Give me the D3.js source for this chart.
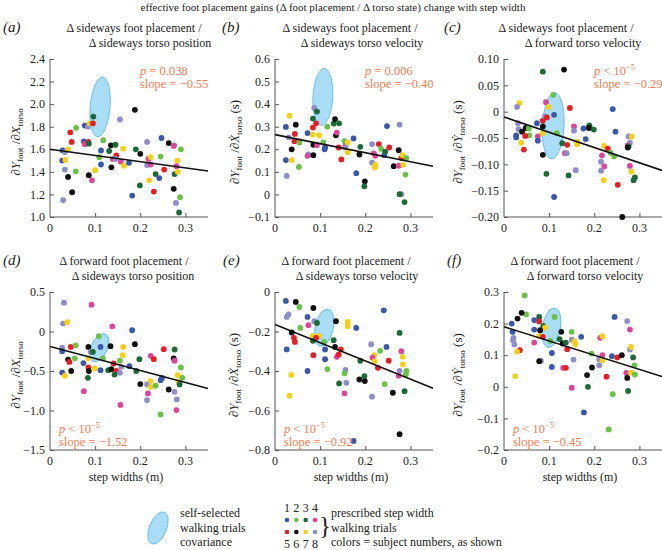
<!DOCTYPE html>
<html><head><meta charset="utf-8">
<script src="https://cdn.jsdelivr.net/npm/d3@7"></script>
<style>body{margin:0;background:#fff}svg{display:block;font-family:'Liberation Serif','Times New Roman',Times,serif}</style>
</head><body><svg id="chart" width="662" height="550"></svg>
<script>
// ---------- DATA ----------
const subjectColors = ["#3b57a7","#6cbf4a","#1e6a36","#d9479b","#e31f26","#111111","#f4cf1c","#8f8dc7"];
const subjects = [1,2,3,4,5,6,7,8];
const xTicks = [0, 0.1, 0.2, 0.3];
const xTickLabels = ["0", "0.1", "0.2", "0.3"];
const xDomain = [0, 0.35];

const panelIds = ["a","b","c","d","e","f"];
const titlesLine1 = ["Δ sideways foot placement /","Δ sideways foot placement /","Δ sideways foot placement /",
                     "Δ forward foot placement /","Δ forward foot placement /","Δ forward foot placement /"];
const titlesLine2 = ["Δ sideways torso position","Δ sideways torso velocity","Δ forward torso velocity",
                     "Δ sideways torso position","Δ sideways torso velocity","Δ forward torso velocity"];
const yLabelVars = ["X","Ẋ","Ẏ","X","Ẋ","Ẏ"];
const yLabelUnits = ["","(s)","(s)","","(s)","(s)"];

const yDomains = [[1.0,2.4],[-0.1,0.6],[-0.2,0.1],[-1.5,0.5],[-0.8,0],[-0.2,0.3]];
const yTicksA = [1.0,1.2,1.4,1.6,1.8,2.0,2.2,2.4];
const yTickLabelsA = ["1.0","1.2","1.4","1.6","1.8","2.0","2.2","2.4"];
const yTicksB = [-0.1,0,0.1,0.2,0.3,0.4,0.5,0.6];
const yTickLabelsB = ["−0.1","0","0.1","0.2","0.3","0.4","0.5","0.6"];
const yTicksC = [-0.20,-0.15,-0.10,-0.05,0,0.05,0.10];
const yTickLabelsC = ["−0.20","−0.15","−0.10","−0.05","0","0.05","0.10"];
const yTicksD = [-1.5,-1.0,-0.5,0,0.5];
const yTickLabelsD = ["−1.5","−1.0","−0.5","0","0.5"];
const yTicksE = [-0.8,-0.6,-0.4,-0.2,0];
const yTickLabelsE = ["−0.8","−0.6","−0.4","−0.2","0"];
const yTicksF = [-0.2,-0.1,0,0.1,0.2,0.3];
const yTickLabelsF = ["−0.2","−0.1","0","0.1","0.2","0.3"];

const slopes = [-0.55,-0.40,-0.29,-1.52,-0.92,-0.45];
const intercepts = [1.60,0.265,-0.01,-0.19,-0.165,0.19];
const pValueLabels = ["= 0.038","= 0.006","< 10","< 10","< 10","< 10"];
const pExponents = ["","","−5","−5","−5","−5"];
const slopeLabels = ["slope = −0.55","slope = −0.40","slope = −0.29","slope = −1.52","slope = −0.92","slope = −0.45"];

// self-selected covariance ellipses: [cx, cy, half-width (x units), half-height (y units), tilt deg]
const ellipseA = [0.111, 1.975, 0.022, 0.266, 5];
const ellipseB = [0.106, 0.432, 0.022, 0.126, 3];
const ellipseC = [0.109, -0.027, 0.024, 0.063, 3];
const ellipseD = [0.109, -0.205, 0.018, 0.19, 25];
const ellipseE = [0.109, -0.181, 0.020, 0.096, 12];
const ellipseF = [0.105, 0.187, 0.020, 0.063, 10];

// points: [step width, gain, subject]
const pointsA = [[0.028,1.59,1],[0.033,1.575,8],[0.027,1.50,1],[0.034,1.505,7],[0.033,1.42,8],[0.029,1.15,8],[0.040,1.60,7],[0.040,1.355,6],[0.045,1.75,5],[0.048,1.665,5],[0.049,1.22,6],[0.058,1.79,2],[0.057,1.405,2],[0.077,1.81,1],[0.075,1.67,1],[0.077,1.645,4],[0.084,1.80,8],[0.088,1.83,7],[0.095,1.83,5],[0.096,1.89,3],[0.085,1.665,5],[0.086,1.65,3],[0.086,1.37,6],[0.100,1.415,7],[0.093,1.325,4],[0.118,1.68,2],[0.113,1.59,1],[0.109,1.53,2],[0.113,1.465,1],[0.131,1.585,3],[0.135,1.635,6],[0.145,1.64,3],[0.147,1.545,5],[0.139,1.515,4],[0.145,1.515,8],[0.136,1.44,6],[0.155,1.865,8],[0.157,1.49,4],[0.162,1.605,7],[0.164,1.455,7],[0.175,1.48,1],[0.188,1.95,6],[0.190,1.60,3],[0.200,1.56,6],[0.182,1.19,1],[0.199,1.28,3],[0.215,1.665,8],[0.218,1.515,4],[0.215,1.46,8],[0.223,1.53,7],[0.223,1.465,4],[0.220,1.325,7],[0.230,1.225,5],[0.234,1.38,3],[0.245,1.535,2],[0.247,1.70,1],[0.242,1.345,1],[0.253,1.42,5],[0.263,1.655,6],[0.275,1.635,8],[0.274,1.63,4],[0.276,1.38,3],[0.274,1.25,6],[0.282,1.50,7],[0.280,1.45,4],[0.283,1.40,7],[0.279,1.125,8],[0.290,1.60,2],[0.288,1.175,2],[0.286,1.04,3]];
const pointsB = [[0.032,0.349,7],[0.024,0.299,1],[0.030,0.253,8],[0.024,0.152,1],[0.026,0.082,8],[0.037,0.200,6],[0.037,0.152,7],[0.046,0.309,6],[0.044,0.268,5],[0.043,0.236,5],[0.054,0.230,2],[0.053,0.122,2],[0.072,0.272,1],[0.074,0.177,8],[0.072,0.171,4],[0.084,0.336,3],[0.087,0.383,8],[0.093,0.367,3],[0.084,0.296,5],[0.091,0.315,5],[0.084,0.265,7],[0.098,0.262,7],[0.085,0.220,6],[0.085,0.174,6],[0.093,0.219,4],[0.111,0.208,1],[0.110,0.200,1],[0.107,0.230,2],[0.116,0.300,2],[0.130,0.314,3],[0.133,0.334,6],[0.142,0.315,3],[0.135,0.262,6],[0.137,0.274,4],[0.141,0.208,5],[0.147,0.155,5],[0.154,0.236,2],[0.156,0.216,4],[0.156,0.208,8],[0.161,0.230,7],[0.161,0.187,7],[0.174,0.248,1],[0.187,0.177,6],[0.189,0.211,3],[0.180,0.094,1],[0.199,0.058,6],[0.198,0.036,3],[0.215,0.223,8],[0.219,0.182,4],[0.215,0.141,8],[0.222,0.171,4],[0.222,0.131,7],[0.221,0.119,7],[0.230,0.223,5],[0.235,0.202,2],[0.242,0.174,1],[0.244,0.189,3],[0.248,0.303,1],[0.253,0.208,5],[0.263,0.125,6],[0.276,0.309,8],[0.274,0.196,6],[0.274,0.127,4],[0.280,0.161,5],[0.283,0.174,7],[0.284,0.131,7],[0.291,0.161,2],[0.289,0.088,2],[0.287,-0.034,3],[0.280,0.001,8],[0.276,0.001,3]];
const pointsC = [[0.034,0.016,7],[0.029,0.009,8],[0.031,-0.022,8],[0.032,-0.033,8],[0.027,-0.045,1],[0.027,-0.049,1],[0.040,-0.038,6],[0.048,-0.031,6],[0.055,-0.032,2],[0.056,-0.045,2],[0.047,-0.046,5],[0.038,-0.059,7],[0.044,-0.072,5],[0.073,-0.022,1],[0.075,-0.047,4],[0.075,-0.055,1],[0.086,0.076,3],[0.086,-0.017,5],[0.086,-0.028,6],[0.086,-0.041,7],[0.086,-0.082,6],[0.093,0.018,4],[0.099,0.009,7],[0.091,-0.009,8],[0.095,-0.011,5],[0.094,-0.118,3],[0.109,0.032,2],[0.111,-0.006,1],[0.117,-0.041,2],[0.129,-0.060,3],[0.133,0.080,6],[0.135,-0.079,4],[0.139,-0.079,8],[0.146,0.007,5],[0.140,-0.063,5],[0.143,-0.121,3],[0.111,-0.162,1],[0.155,-0.028,4],[0.155,-0.036,8],[0.162,-0.057,7],[0.162,-0.062,7],[0.159,-0.111,8],[0.176,-0.032,1],[0.181,-0.052,1],[0.189,-0.026,3],[0.190,-0.030,3],[0.188,-0.031,6],[0.199,-0.034,3],[0.222,-0.065,7],[0.217,-0.083,4],[0.215,-0.095,8],[0.222,-0.104,4],[0.215,-0.112,8],[0.221,-0.130,7],[0.230,-0.070,5],[0.236,-0.078,2],[0.244,-0.085,2],[0.241,0.005,1],[0.247,-0.038,1],[0.252,-0.139,5],[0.262,-0.200,6],[0.276,-0.047,8],[0.283,-0.047,7],[0.279,-0.059,8],[0.274,-0.064,4],[0.276,-0.066,3],[0.274,-0.068,6],[0.279,-0.103,4],[0.282,-0.114,7],[0.290,-0.125,3],[0.287,-0.130,3]];
const pointsD = [[0.031,0.365,8],[0.029,0.100,8],[0.038,0.117,7],[0.027,-0.203,8],[0.027,-0.250,1],[0.027,-0.520,1],[0.033,-0.560,7],[0.040,-0.355,6],[0.043,-0.385,5],[0.046,-0.195,5],[0.047,-0.500,6],[0.057,-0.175,2],[0.055,-0.340,2],[0.074,-0.400,1],[0.075,-0.755,4],[0.092,0.340,4],[0.085,-0.195,6],[0.090,-0.258,8],[0.095,-0.258,3],[0.085,-0.340,7],[0.085,-0.456,5],[0.086,-0.500,6],[0.084,-0.586,3],[0.099,-0.468,7],[0.112,-0.195,1],[0.108,-0.060,2],[0.117,-0.340,2],[0.112,-0.490,1],[0.134,-0.186,6],[0.129,-0.490,3],[0.136,-0.477,6],[0.138,0.066,4],[0.141,-0.405,5],[0.147,-0.500,5],[0.143,-0.545,3],[0.162,-0.195,7],[0.161,-0.300,7],[0.155,-0.370,2],[0.158,-0.447,8],[0.155,-0.523,8],[0.156,-0.930,4],[0.176,-0.440,1],[0.182,0.016,1],[0.188,-0.160,6],[0.191,-0.500,3],[0.198,-0.350,3],[0.200,-0.666,6],[0.223,-0.308,4],[0.230,-0.350,5],[0.215,-0.670,8],[0.217,-0.784,4],[0.215,-0.868,8],[0.223,-0.628,7],[0.223,-0.700,7],[0.234,-0.687,2],[0.245,-1.050,2],[0.245,-0.616,1],[0.248,-0.586,1],[0.252,-0.224,5],[0.263,-0.734,6],[0.276,-0.228,3],[0.274,-0.340,6],[0.276,-0.370,4],[0.276,-0.763,8],[0.281,-0.860,8],[0.280,-0.995,4],[0.283,-0.553,7],[0.285,-0.637,7],[0.290,-0.456,2],[0.293,-0.586,2],[0.287,-0.670,3]];
const pointsE = [[0.024,-0.045,1],[0.046,-0.050,6],[0.030,-0.113,8],[0.026,-0.126,8],[0.054,-0.076,2],[0.037,-0.205,6],[0.042,-0.232,5],[0.044,-0.253,5],[0.056,-0.182,2],[0.026,-0.291,1],[0.036,-0.420,7],[0.032,-0.525,7],[0.072,-0.126,1],[0.074,-0.168,4],[0.072,-0.400,1],[0.085,-0.081,6],[0.087,-0.148,8],[0.093,-0.157,3],[0.084,-0.222,7],[0.098,-0.222,7],[0.091,-0.232,5],[0.084,-0.247,3],[0.085,-0.320,5],[0.109,-0.253,2],[0.111,-0.291,1],[0.111,-0.340,1],[0.116,-0.390,2],[0.130,-0.244,3],[0.135,-0.148,6],[0.133,-0.278,6],[0.146,-0.290,5],[0.137,-0.328,4],[0.141,-0.316,5],[0.142,-0.463,3],[0.161,-0.152,7],[0.161,-0.173,7],[0.156,-0.395,8],[0.154,-0.412,2],[0.158,-0.460,8],[0.154,-0.513,4],[0.180,-0.182,1],[0.189,-0.348,3],[0.187,-0.443,6],[0.198,-0.426,3],[0.199,-0.451,6],[0.174,-0.754,1],[0.213,-0.264,8],[0.220,-0.320,7],[0.216,-0.332,4],[0.221,-0.350,7],[0.228,-0.384,5],[0.215,-0.530,8],[0.233,-0.298,2],[0.243,-0.466,2],[0.241,-0.093,1],[0.247,-0.278,1],[0.252,-0.348,5],[0.261,-0.510,6],[0.276,-0.207,3],[0.280,-0.300,4],[0.283,-0.328,7],[0.283,-0.367,7],[0.276,-0.400,8],[0.274,-0.424,4],[0.291,-0.400,2],[0.290,-0.416,2],[0.287,-0.502,3],[0.276,-0.720,6]];
const pointsF = [[0.046,0.289,2],[0.049,0.229,2],[0.039,0.234,6],[0.030,0.216,6],[0.017,0.200,1],[0.019,0.174,1],[0.021,0.155,8],[0.020,0.147,8],[0.023,0.134,8],[0.035,0.116,5],[0.029,0.111,7],[0.025,0.034,7],[0.067,0.211,1],[0.078,0.221,3],[0.078,0.207,5],[0.067,0.181,1],[0.067,0.140,4],[0.078,0.160,7],[0.086,0.158,5],[0.087,0.193,3],[0.091,0.187,7],[0.080,0.179,6],[0.082,0.082,8],[0.078,0.081,6],[0.103,0.145,2],[0.112,0.221,2],[0.106,0.107,1],[0.106,0.063,1],[0.127,0.174,6],[0.123,0.151,3],[0.130,0.137,6],[0.137,0.140,3],[0.140,0.119,5],[0.131,0.060,4],[0.137,0.060,5],[0.150,0.174,2],[0.150,0.149,8],[0.156,0.144,7],[0.158,0.135,7],[0.154,0.086,8],[0.150,-0.003,4],[0.171,0.158,1],[0.177,-0.081,1],[0.184,0.037,6],[0.186,0.000,3],[0.195,0.061,6],[0.194,0.105,2],[0.213,0.155,4],[0.218,0.160,7],[0.218,0.100,4],[0.211,0.087,8],[0.211,0.068,8],[0.218,0.084,7],[0.227,0.032,5],[0.232,-0.135,2],[0.245,0.221,1],[0.239,0.097,1],[0.241,-0.023,2],[0.251,0.093,5],[0.261,0.100,6],[0.273,0.208,8],[0.279,0.181,4],[0.279,0.118,8],[0.281,0.126,7],[0.271,0.044,4],[0.281,0.045,7],[0.273,0.028,6],[0.275,-0.013,3],[0.286,0.093,3],[0.289,0.068,2],[0.290,0.039,2]];

const mainTitle = "effective foot placement gains (Δ foot placement / Δ torso state) change with step width";
const xAxisTitle = "step widths (m)";
const legendEllipseText = ["self-selected","walking trials","covariance"];
const legendSubjectText = ["prescribed step width","walking trials","colors = subject numbers, as shown"];

// ---------- LAYOUT ----------
const FONT = "'Liberation Serif','Times New Roman',Times,serif";
const yTicksAll = [yTicksA,yTicksB,yTicksC,yTicksD,yTicksE,yTicksF];
const yTickLabelsAll = [yTickLabelsA,yTickLabelsB,yTickLabelsC,yTickLabelsD,yTickLabelsE,yTickLabelsF];
const ellipsesAll = [ellipseA,ellipseB,ellipseC,ellipseD,ellipseE,ellipseF];
const pointsAll = [pointsA,pointsB,pointsC,pointsD,pointsE,pointsF];

const W = 158, H = 158;
const lefts = [50,275,504,50,275,504];
const tops = [59,59,59,292,292,292];
const letterX = [3,222,444,3,223,447];
const title1X = [134,350,566,124,346,575];
const title2X = [150,362,583,133,357,585];
const yLabX = [15,234,457,15,233,457];
const annotColor = "#ee7d52";
const axisColor = "#555";
const textColor = "#222";

const svg = d3.select("#chart").attr("font-family",FONT);
svg.append("rect").attr("width",662).attr("height",550).attr("fill","#fff");

function T(sel){ return sel.append("text").attr("font-family",FONT).attr("fill",textColor); }

T(svg).attr("x",333).attr("y",11).attr("text-anchor","middle")
  .attr("font-size",11).text(mainTitle);

panelIds.forEach((id,i)=>{
  const left = lefts[i], top = tops[i];
  const x = d3.scaleLinear().domain(xDomain).range([left,left+W]);
  const y = d3.scaleLinear().domain(yDomains[i]).range([top+H,top]);
  const g = svg.append("g");

  T(g).attr("x",letterX[i]).attr("y",top-27).attr("font-size",15)
    .attr("font-style","italic").text("("+id+")");
  T(g).attr("x",title1X[i]).attr("y",top-27).attr("text-anchor","middle")
    .attr("font-size",12).text(titlesLine1[i]);
  T(g).attr("x",title2X[i]).attr("y",top-12).attr("text-anchor","middle")
    .attr("font-size",12).text(titlesLine2[i]);

  const yAxis = d3.axisRight(y).tickValues(yTicksAll[i]).tickSize(4).tickFormat("");
  const gy = g.append("g").attr("transform",`translate(${left},0)`).call(yAxis);
  const xAxis = d3.axisTop(x).tickValues(xTicks).tickSize(4).tickFormat("");
  const gx = g.append("g").attr("transform",`translate(0,${top+H})`).call(xAxis);
  [gy,gx].forEach(a=>{
    a.select(".domain").attr("stroke",axisColor).attr("stroke-width",1)
      .attr("d", a===gy ? `M0,${top+H}V${top}` : `M${left},0H${left+W}`);
    a.selectAll(".tick line").attr("stroke",axisColor);
  });
  gx.selectAll(".tick").filter(d=>d===0).select("line").remove();
  yTicksAll[i].forEach((v,k)=>{
    T(g).attr("x",left-5).attr("y",y(v)).attr("dy","0.35em")
      .attr("text-anchor","end").attr("font-size",12).text(yTickLabelsAll[i][k]);
  });
  xTicks.forEach((v,k)=>{
    T(g).attr("x",x(v)).attr("y",top+H+15).attr("text-anchor","middle")
      .attr("font-size",12).text(xTickLabels[k]);
  });
  if (i>=3) {
    T(g).attr("x",left+76).attr("y",top+H+31).attr("text-anchor","middle")
      .attr("font-size",12).text(xAxisTitle);
  }

  const lab = T(g).attr("transform",`translate(${yLabX[i]},${top+H/2+4}) rotate(-90)`)
    .attr("text-anchor","middle").attr("dy","0.35em").attr("font-size",13);
  lab.append("tspan").text("∂");
  lab.append("tspan").attr("font-style","italic").text("Y");
  lab.append("tspan").attr("font-size",9).attr("dy",3).text("foot");
  lab.append("tspan").attr("dy",-3).text(" /∂");
  lab.append("tspan").attr("font-style","italic").text(yLabelVars[i]);
  lab.append("tspan").attr("font-size",9).attr("dy",3).text("torso");
  if (yLabelUnits[i]) lab.append("tspan").attr("dy",-3).text(" "+yLabelUnits[i]);

  const e = ellipsesAll[i];
  const cx = x(e[0]), cy = y(e[1]);
  const rx = e[2]*(x(1)-x(0)), ry = e[3]*(y(0)-y(1));
  g.append("ellipse").attr("cx",cx).attr("cy",cy).attr("rx",rx).attr("ry",ry)
    .attr("transform",`rotate(${e[4]},${cx},${cy})`)
    .attr("fill","#a9ddf6").attr("stroke","#5ab6e6").attr("stroke-width",0.8);

  g.selectAll("circle.pt").data(pointsAll[i]).join("circle").attr("class","pt")
    .attr("cx",d=>x(d[0])).attr("cy",d=>y(d[1])).attr("r",2.9)
    .attr("fill",d=>subjectColors[d[2]-1]);

  g.append("line").attr("x1",x(xDomain[0])).attr("y1",y(intercepts[i]+slopes[i]*xDomain[0]))
    .attr("x2",x(xDomain[1])).attr("y2",y(intercepts[i]+slopes[i]*xDomain[1]))
    .attr("stroke","#111").attr("stroke-width",1.6);

  const ax = i<3 ? left+90 : left+9;
  const ay1 = i<3 ? top+16 : top+H-17;
  const ay2 = ay1+13;
  const pt = T(g).attr("x",ax).attr("y",ay1).attr("font-size",12.5).attr("fill",annotColor);
  pt.append("tspan").attr("font-style","italic").text("p");
  pt.append("tspan").text(" "+pValueLabels[i]);
  if (pExponents[i]) pt.append("tspan").attr("font-size",8.5).attr("dy",-5).text(pExponents[i]);
  T(g).attr("x",ax).attr("y",ay2).attr("font-size",12.5).attr("fill",annotColor).text(slopeLabels[i]);
});

// ---------- LEGEND ----------
const lg = svg.append("g");
lg.append("ellipse").attr("cx",158).attr("cy",528).attr("rx",8.5).attr("ry",17)
  .attr("transform","rotate(22,158,528)").attr("fill","#a9ddf6").attr("stroke","#5ab6e6").attr("stroke-width",0.8);
legendEllipseText.forEach((t,k)=>{
  T(lg).attr("x",180).attr("y",517+k*14.5).attr("font-size",12).text(t);
});
const legX = d3.scalePoint().domain([0,1,2,3]).range([287,315]);
subjects.forEach((s,k)=>{
  const col = k%4, row = Math.floor(k/4);
  T(lg).attr("x",legX(col)).attr("y",row===0?512:548).attr("text-anchor","middle")
    .attr("font-size",12).text(s);
  lg.append("circle").attr("cx",legX(col)).attr("cy",row===0?520:532).attr("r",2.3)
    .attr("fill",subjectColors[k]);
});
T(lg).attr("x",319).attr("y",534).attr("font-size",25).text("}");
legendSubjectText.forEach((t,k)=>{
  T(lg).attr("x",331).attr("y",517+k*14.5).attr("font-size",12).text(t);
});
</script></body></html>
